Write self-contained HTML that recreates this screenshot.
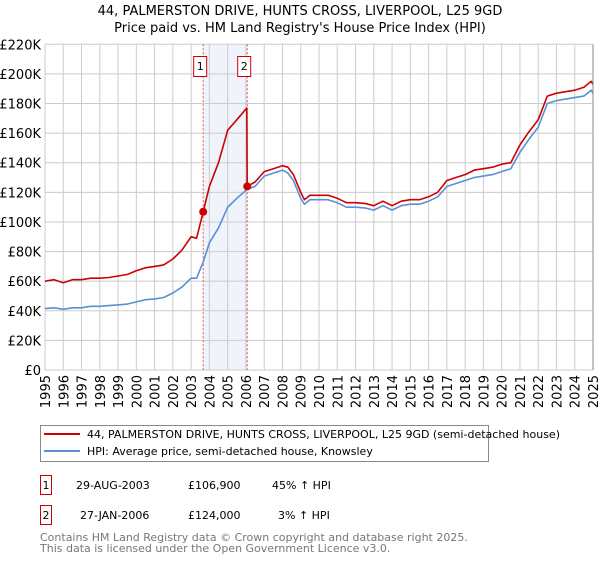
<!DOCTYPE html>
<html><head><meta charset="utf-8"><style>
body{margin:0;background:#fff;font-family:"Liberation Sans","DejaVu Sans",sans-serif;}
svg text{font-family:"DejaVu Sans","Liberation Sans",sans-serif;}
</style></head><body>
<svg id="chart" width="600" height="560" viewBox="0 0 600 560" xmlns="http://www.w3.org/2000/svg">
<text x="300" y="15" text-anchor="middle" font-size="13">44, PALMERSTON DRIVE, HUNTS CROSS, LIVERPOOL, L25 9GD</text>
<text x="300" y="32" text-anchor="middle" font-size="13">Price paid vs. HM Land Registry's House Price Index (HPI)</text>
<g id="grid"></g>
<g id="marks"></g>
<g id="axes"></g>
<g>
<rect x="40.5" y="425.5" width="448" height="36" fill="#fff" stroke="#888"/>
<line x1="44" y1="434" x2="80" y2="434" stroke="#cc0000" stroke-width="2"/>
<text x="87" y="438" font-size="11">44, PALMERSTON DRIVE, HUNTS CROSS, LIVERPOOL, L25 9GD (semi-detached house)</text>
<line x1="44" y1="451" x2="80" y2="451" stroke="#5b8fd4" stroke-width="2"/>
<text x="87" y="455" font-size="11">HPI: Average price, semi-detached house, Knowsley</text>
</g>
<g font-size="11">
<rect x="40.5" y="475.5" width="11" height="19" fill="#fff" stroke="#cc0000"/>
<text x="46" y="489" text-anchor="middle">1</text>
<text x="76" y="489">29-AUG-2003</text>
<text x="188" y="489">£106,900</text>
<text x="272" y="489">45% ↑ HPI</text>
<rect x="40.5" y="505.5" width="11" height="19" fill="#fff" stroke="#cc0000"/>
<text x="46" y="519" text-anchor="middle">2</text>
<text x="80" y="519">27-JAN-2006</text>
<text x="188" y="519">£124,000</text>
<text x="278" y="519">3% ↑ HPI</text>
</g>
<text x="40" y="541" font-size="11" fill="#777">Contains HM Land Registry data © Crown copyright and database right 2025.</text>
<text x="40" y="552" font-size="11" fill="#777">This data is licensed under the Open Government Licence v3.0.</text>
</svg>
<script>
const hpiYears=[1995,1995.5,1996,1996.5,1997,1997.5,1998,1998.5,1999,1999.5,2000,2000.5,2001,2001.5,2002,2002.5,2003,2003.3,2003.66,2004,2004.5,2005,2005.5,2006.07,2006.5,2007,2007.5,2008,2008.3,2008.6,2009,2009.2,2009.5,2010,2010.5,2011,2011.5,2012,2012.5,2013,2013.5,2014,2014.5,2015,2015.5,2016,2016.5,2017,2017.5,2018,2018.5,2019,2019.5,2020,2020.5,2021,2021.5,2022,2022.5,2023,2023.5,2024,2024.5,2024.9,2025];
const hpiValues=[41.5,42,41,42,42,43,43,43.5,44,44.5,46,47.5,48,49,52,56,62,62,73,86,96,110,116,122,124,131,133,135,133,128,116,112,115,115,115,113,110,110,109.5,108,111,108,111,112,112,114,117,124,126,128,130,131,132,134,136,147,156,164,180,182,183,184,185,189,187];
const priceYears=[1995,1995.5,1996,1996.5,1997,1997.5,1998,1998.5,1999,1999.5,2000,2000.5,2001,2001.5,2002,2002.5,2003,2003.3,2003.66,2004,2004.5,2005,2005.5,2006.05,2006.07,2006.5,2007,2007.5,2008,2008.3,2008.6,2009,2009.2,2009.5,2010,2010.5,2011,2011.5,2012,2012.5,2013,2013.5,2014,2014.5,2015,2015.5,2016,2016.5,2017,2017.5,2018,2018.5,2019,2019.5,2020,2020.5,2021,2021.5,2022,2022.5,2023,2023.5,2024,2024.5,2024.9,2025];
const priceValues=[60,61,59,61,61,62,62,62.5,63.5,64.5,67,69,70,71,75,81,90,89,106.9,124,140,162,169,177,124,127,134,136,138,137,132,120,115,118,118,118,116,113,113,112.5,111,114,111,114,115,115,117,120,128,130,132,135,136,137,139,140,152,161,169,185,187,188,189,191,195,193];
const saleYears=[2003.66,2006.07];
const saleValues=[106.9,124];
const saleLabels=["1","2"];
const yTicks=[0,20,40,60,80,100,120,140,160,180,200,220];
const xTicks=[1995,1996,1997,1998,1999,2000,2001,2002,2003,2004,2005,2006,2007,2008,2009,2010,2011,2012,2013,2014,2015,2016,2017,2018,2019,2020,2021,2022,2023,2024,2025];
const X0=45,X1=593,Y0=370,Y1=44.3;
const xs=y=>X0+(y-1995)/30*(X1-X0);
const ys=v=>Y0-v/220*(Y0-Y1);
const NS="http://www.w3.org/2000/svg";
function mk(tag,attrs,parent){const e=document.createElementNS(NS,tag);for(const k in attrs)e.setAttribute(k,attrs[k]);parent.appendChild(e);return e;}
const grid=document.getElementById('grid'),marks=document.getElementById('marks'),axes=document.getElementById('axes');
const band=mk('rect',{x:xs(saleYears[0]),y:Y1,width:xs(saleYears[1])-xs(saleYears[0]),height:Y0-Y1,fill:'#eef3fc'},grid);


yTicks.forEach(t=>{
  mk('line',{x1:X0,x2:X1,y1:ys(t),y2:ys(t),stroke:'#ccc','stroke-width':1},grid);
  const tx=mk('text',{x:X0-4,y:ys(t)+5,'text-anchor':'end','font-size':13},axes);
  tx.textContent='£'+(t===0?'0':t+'K');
  
  
});
xTicks.forEach(t=>{
  mk('line',{x1:xs(t),x2:xs(t),y1:Y1,y2:Y0,stroke:'#ccc','stroke-width':1},grid);
  const tx=mk('text',{x:0,y:0,'text-anchor':'end','font-size':13,transform:`translate(${xs(t)+5},${Y0+5}) rotate(-90)`},axes);
  tx.textContent=t;
  
  
});
saleYears.forEach((s,i)=>{
  const l=mk('line',{x1:xs(s),x2:xs(s),y1:Y1,y2:Y0,stroke:'#e05050','stroke-width':1,'stroke-dasharray':'2,2'},marks);
  
  
});
function path(xa,va,col,name){
  const d=xa.map((x,i)=>(i?'L':'M')+xs(x).toFixed(1)+','+ys(va[i]).toFixed(1)).join('');
  const p=mk('path',{d:d,fill:'none',stroke:col,'stroke-width':1.6,'stroke-linejoin':'round'},marks);
  
  
}
path(hpiYears,hpiValues,'#5b8fd4','hpi-line');
path(priceYears,priceValues,'#cc0000','price-paid-line');
saleYears.forEach((s,i)=>{
  const c=mk('circle',{cx:xs(s),cy:ys(saleValues[i]),r:4,fill:'#cc0000'},marks);
  
  
  const r=mk('rect',{x:xs(s)-9.5,y:56.5,width:13,height:20,fill:'#fff',stroke:'#cc0000'},marks);
  
  
  const t=mk('text',{x:xs(s)-3,y:70,'text-anchor':'middle','font-size':11},marks);
  t.textContent=saleLabels[i];
  
  
});
mk('line',{x1:X1,x2:X1,y1:Y1,y2:Y0,stroke:'#888','stroke-width':1},axes);
</script>
</body></html>
